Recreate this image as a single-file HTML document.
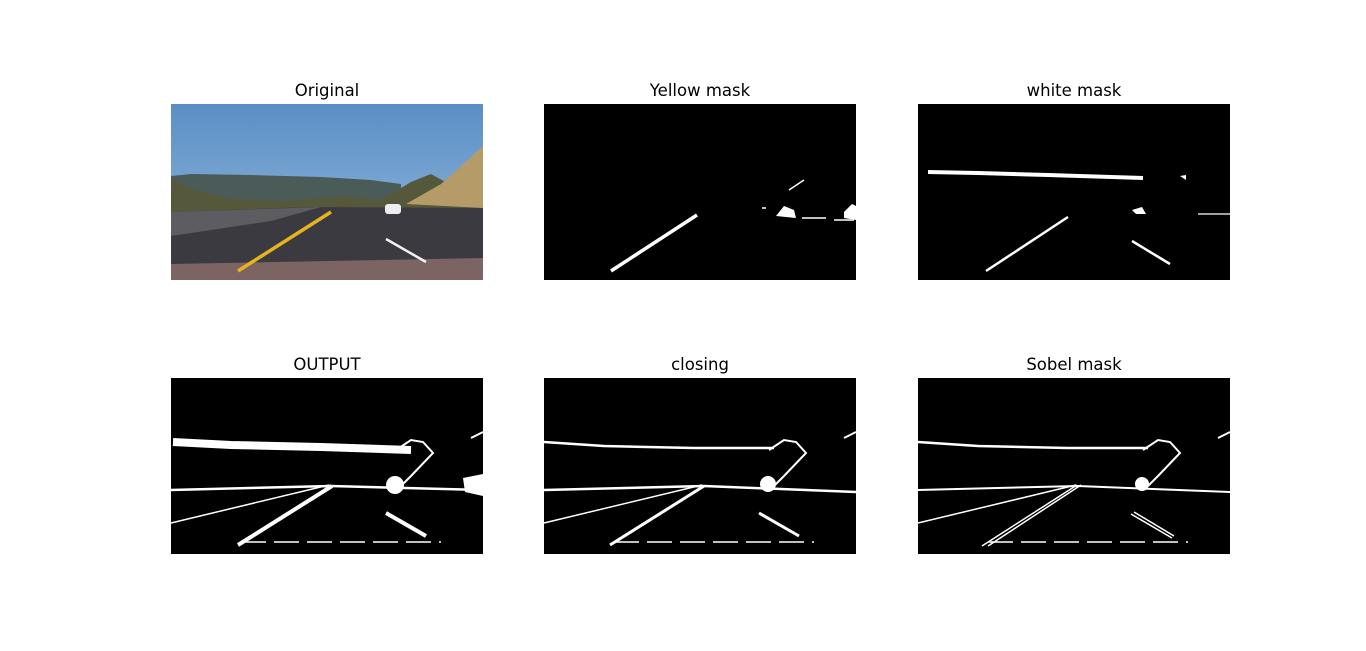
<!DOCTYPE html>
<html><head><meta charset="utf-8"><style>
body{margin:0;background:#fff;width:1366px;height:651px;overflow:hidden;font-family:"Liberation Sans","DejaVu Sans",sans-serif}
svg{display:block}
text{font-family:"DejaVu Sans","Liberation Sans",sans-serif;font-size:16.5px;fill:#000}
</style></head><body>
<svg width="1366" height="651">
<!-- Original -->
<g>
<text x="327" y="96" text-anchor="middle">Original</text>
<g transform="translate(171,104)">
<defs><linearGradient id="sky" x1="0" y1="0" x2="0" y2="1"><stop offset="0" stop-color="#5a8ec4"/><stop offset="0.5" stop-color="#7aa6d2"/><stop offset="1" stop-color="#9bbbd8"/></linearGradient></defs>
<rect width="312" height="176" fill="url(#sky)"/>
<path d="M0,72 L20,70 L80,71 L150,73 L200,76 L230,80 L230,100 L0,100Z" fill="#4b5c58"/>
<path d="M0,75 L20,85 L60,95 L120,97 L170,92 L210,96 L240,78 L260,70 L278,80 L312,50 L312,110 L0,110Z" fill="#56583c"/>
<path d="M235,100 L270,80 L312,42 L312,104 Z" fill="#b59b68"/>
<path d="M0,108 L140,103 L312,104 L312,160 L0,160Z" fill="#3a3a40"/>
<path d="M0,108 L150,103 L100,117 L0,132Z" fill="#5d5d61"/>
<path d="M0,160 L312,154 L312,176 L0,176Z" fill="#7b6462"/>
<path d="M67,167 L160,108" stroke="#e6b41f" stroke-width="3.5"/>
<path d="M215,135 L255,158" stroke="#f2f2f2" stroke-width="2.5"/>
<rect x="214" y="100" width="16" height="10" rx="3" fill="#eee"/>
</g></g>
<!-- Yellow mask -->
<g>
<text x="700" y="96" text-anchor="middle">Yellow mask</text>
<g transform="translate(544,104)">
<rect width="312" height="176" fill="#000"/>
<path d="M67,167 L153,111" stroke="#fff" stroke-width="3.5"/>
<path d="M232,112 L240,102 L250,106 L252,114Z M300,108 L308,100 L312,102 L312,116 L300,114Z" fill="#fff"/>
<path d="M245,86 L260,76" stroke="#fff" stroke-width="1.5"/>
<path d="M258,114 L282,114 M290,116 L310,116 M218,104 L222,104" stroke="#fff" stroke-width="1.5"/>
</g></g>
<!-- white mask -->
<g>
<text x="1074" y="96" text-anchor="middle">white mask</text>
<g transform="translate(918,104)">
<rect width="312" height="176" fill="#000"/>
<path d="M10,68 L60,69 L130,71 L225,74" stroke="#fff" stroke-width="4" fill="none"/>
<path d="M68,167 L150,113" stroke="#fff" stroke-width="2.5"/>
<path d="M214,137 L252,160" stroke="#fff" stroke-width="2.5"/>
<path d="M214,106 L224,103 L228,110 L218,110Z M262,72 L268,71 L268,76Z" fill="#fff"/>
<path d="M280,110 L312,110" stroke="#fff" stroke-width="1.2"/>
</g></g>
<!-- bottom row -->
<g>
<text x="327" y="370" text-anchor="middle">OUTPUT</text>
<g transform="translate(171,378)">
<rect width="312" height="176" fill="#000"/>
<path d="M2,64 L60,67 L150,69 L240,72" stroke="#fff" stroke-width="8" fill="none"/>
<path d="M225,72 L240,62 L252,64 L262,75 L240,98 L230,108" stroke="#fff" stroke-width="2" fill="none"/>
<path d="M300,60 L312,54" stroke="#fff" stroke-width="2"/>
<path d="M0,112 L160,108 L312,112" stroke="#fff" stroke-width="2.5" fill="none"/>
<path d="M0,145 L158,107" stroke="#fff" stroke-width="1.5"/>
<path d="M67,167 L161,108" stroke="#fff" stroke-width="4"/>
<path d="M215,135 L255,158" stroke="#fff" stroke-width="4"/>
<circle cx="224" cy="107" r="9" fill="#fff"/>
<path d="M292,100 L312,96 L312,118 L294,114Z" fill="#fff"/>
<path d="M70,164 L270,164" stroke="#fff" stroke-width="1.5" stroke-dasharray="25,8"/>
</g></g>
<g>
<text x="700" y="370" text-anchor="middle">closing</text>
<g transform="translate(544,378)">
<rect width="312" height="176" fill="#000"/>
<path d="M0,64 L60,68 L150,70 L230,70" stroke="#fff" stroke-width="2.5" fill="none"/>
<path d="M225,72 L240,62 L252,64 L262,75 L240,98 L230,108" stroke="#fff" stroke-width="2" fill="none"/>
<path d="M300,60 L312,54" stroke="#fff" stroke-width="2"/>
<path d="M0,112 L160,108 L312,114" stroke="#fff" stroke-width="2.5" fill="none"/>
<path d="M0,145 L158,107" stroke="#fff" stroke-width="1.5"/>
<path d="M66,167 L160,108" stroke="#fff" stroke-width="3"/>
<path d="M215,135 L255,158" stroke="#fff" stroke-width="3"/>
<circle cx="224" cy="106" r="8" fill="#fff"/>
<path d="M70,164 L270,164" stroke="#fff" stroke-width="1.5" stroke-dasharray="25,8"/>
</g></g>
<g>
<text x="1074" y="370" text-anchor="middle">Sobel mask</text>
<g transform="translate(918,378)">
<rect width="312" height="176" fill="#000"/>
<path d="M0,64 L60,68 L150,70 L230,70" stroke="#fff" stroke-width="2.5" fill="none"/>
<path d="M225,72 L240,62 L252,64 L262,75 L240,98 L230,108" stroke="#fff" stroke-width="2" fill="none"/>
<path d="M300,60 L312,54" stroke="#fff" stroke-width="2"/>
<path d="M0,112 L160,108 L312,114" stroke="#fff" stroke-width="2" fill="none"/>
<path d="M0,145 L158,107" stroke="#fff" stroke-width="1.5"/>
<path d="M64,168 L159,107 M70,168 L163,107" stroke="#fff" stroke-width="1.5"/>
<path d="M213,136 L254,160 M216,134 L256,158" stroke="#fff" stroke-width="1.5"/>
<circle cx="224" cy="106" r="7" fill="#fff"/>
<path d="M70,164 L270,164" stroke="#fff" stroke-width="1.5" stroke-dasharray="25,8"/>
</g></g>
</svg>
</body></html>
